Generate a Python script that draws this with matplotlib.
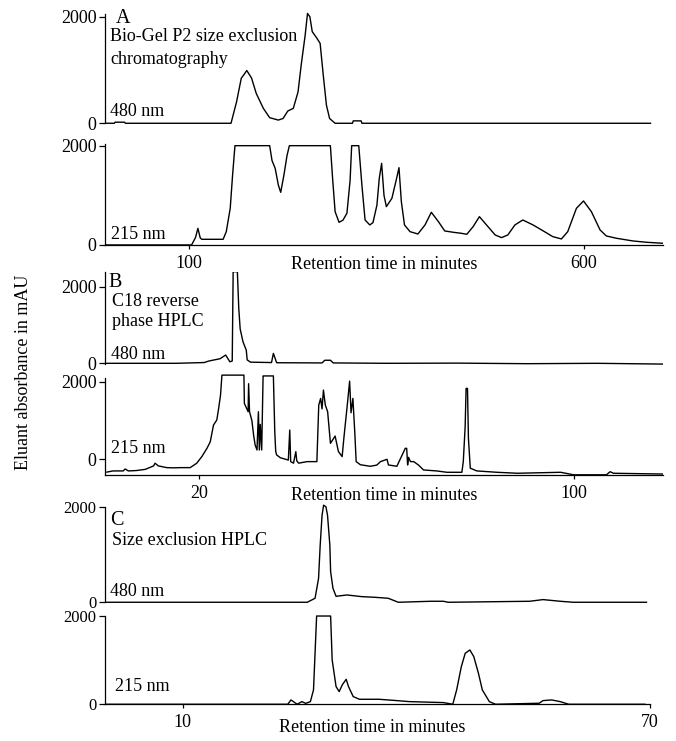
import numpy as np
import matplotlib.pyplot as plt

plt.rcParams['font.family'] = ['Liberation Serif', 'DejaVu Serif']

# ---- data (minutes, mAU) ----
# A: Bio-Gel P2
a480_t = [-5, 5, 6, 18, 19, 153, 160, 166, 169, 173, 179, 185, 194, 202, 213, 219, 225, 232,
          238, 242, 247, 250, 253, 256, 262, 266, 270, 274, 278, 285, 307, 308, 318, 319, 685]
a480_v = [0, 0, 20, 20, 0, 0, 400, 845, 905, 990, 850, 560, 280, 105, 60, 90, 230, 280,
          590, 1094, 1650, 2062, 2000, 1720, 1594, 1500, 900, 340, 90, 0, 0, 45, 45, 0, 0]

a215_t = [-5, 103, 108, 111, 114, 116, 143, 147, 152, 155, 158, 202, 205, 209, 213, 216, 220,
          224, 227, 279, 282, 285, 290, 295, 300, 304, 306, 315, 319, 323, 329, 333, 338, 341,
          344, 347, 350, 357, 363, 366, 369, 373, 380, 390, 399, 407, 416, 424, 435, 445,
          452, 460, 468, 477, 488, 496, 504, 513, 523, 536, 549, 561, 572, 580, 591, 600,
          610, 621, 629, 642, 663, 680, 701]
a215_v = [0, 0, 150, 335, 140, 114, 114, 268, 738, 1409, 2000, 2000, 1700, 1543, 1208, 1060,
          1400, 1800, 2000, 2000, 1300, 671, 456, 500, 640, 1300, 2000, 2000, 1200, 503, 403,
          450, 800, 1342, 1644, 1000, 772, 939, 1342, 1557, 872, 403, 268, 221, 403, 658,
          470, 282, 255, 235, 215, 369, 570, 403, 201, 148, 201, 403, 503, 403, 282, 168,
          121, 268, 738, 886, 671, 302, 181, 134, 80, 54, 34]

# B: C18 reverse phase HPLC
b480_t = [0, 15, 21, 22, 24.4, 25.6, 26.5, 27.0, 27.2, 28.1, 28.4, 28.7, 29.3, 30.0, 30.2,
          30.9, 35.4, 35.8, 36.5, 46.2, 46.8, 48.0, 48.6, 60, 75, 90, 105, 119]
b480_v = [0, 0, 20, 60, 120, 217, 40, 60, 2400, 2400, 1435, 900, 565, 345, 90, 30, 20, 260,
          15, 10, 80, 80, 10, 0, 5, -10, 0, -20]

b215_t = [0.2, 1.5, 3.7, 4.1, 4.8, 6.5, 8.4, 10.2, 10.5, 11.2, 13.0, 14.4, 15.9, 18.0, 19.4,
          20.5, 21.6, 22.3, 23.0, 23.7, 24.1, 24.5, 24.8, 29.5, 29.6, 30.4, 30.5, 30.7, 31.2,
          31.6, 31.9, 32.3, 32.6, 32.8, 33.0, 33.3, 33.6, 33.7, 35.8, 36.1, 36.3, 36.5, 37.3,
          39.0, 39.3, 39.5, 40.1, 40.6, 40.8, 41.2, 43.0, 45.1, 45.5, 45.9, 46.2, 46.5, 46.9,
          47.4, 48.0, 49.0, 49.7, 50.5, 50.9, 51.6, 52.1, 52.4, 52.8, 53.2, 53.5, 54.4, 56.5,
          57.9, 58.7, 60.1, 60.4, 62.2, 64.0, 64.3, 64.5, 64.7, 65.1, 65.8, 66.8, 67.9, 70.7,
          72.9, 76.1, 76.4, 76.8, 77.0, 77.3, 77.5, 77.9, 79.3, 83.6, 88.0, 97.2, 100.0,
          107.0, 107.8, 108.5, 119.1]
b215_v = [-330, -300, -300, -250, -300, -290, -260, -170, -100, -170, -215, -220, -215, -215,
          -103, 69, 283, 450, 884, 1012, 1313, 1656, 2171, 2171, 1441, 1227, 1950, 1227, 1000,
          600, 369, 240, 1227, 240, 900, 240, 2150, 2150, 2150, 700, 200, 112, 40, -20, 755,
          -60, -100, 197, -40, -100, -60, -60, 1398, 1570, 1300, 1785, 1400, 1227, 412, 600,
          200, 69, 582, 1400, 2016, 1200, 1570, 700, -60, -140, -180, -150, -60, 0, -146,
          -180, 283, 283, -146, 50, -60, -60, -146, -275, -300, -335, -335, -60, 841, 1828,
          1828, 540, -230, -300, -335, -360, -335, -400, -400, -320, -360, -380]

# C: size exclusion HPLC
c480_t = [0, 26.0, 27.0, 27.45, 27.66, 27.9, 28.1, 28.4, 28.6, 28.9, 29.0, 29.3, 29.7, 31.1,
          33.0, 34.7, 36.4, 37.7, 41.9, 43.5, 44.1, 54.6, 56.3, 58.5, 60.2, 69.6]
c480_v = [0, 0, 84, 502, 1199, 1826, 2035, 2000, 1826, 1199, 641, 293, 125, 153, 118, 104,
          84, 0, 21, 21, 0, 21, 56, 21, 0, 0]

c215_t = [0, 23.5, 23.9, 24.7, 25.3, 25.8, 26.4, 26.8, 27.2, 29.0, 29.2, 29.7, 30.1, 30.5,
          31.0, 31.3, 31.9, 32.7, 35.2, 37.5, 39.1, 43.5, 44.7, 45.2, 45.8, 46.3, 46.9, 47.4,
          48.0, 48.5, 49.4, 50.2, 55.8, 56.3, 57.4, 58.5, 59.6, 69.4]
c215_v = [0, 0, 98, 0, 60, 20, 60, 325, 2000, 2000, 1004, 400, 287, 440, 566, 400, 174, 113,
          113, 83, 60, 38, 0, 325, 853, 1155, 1231, 1080, 702, 325, 60, 0, 23, 83, 98, 60, 0, 0]

W, H = 676, 741
FS = 13


def px_axes(left, right, top, bottom):
    return fig.add_axes([left / W, 1 - bottom / H, (right - left) / W, (bottom - top) / H])


def style(ax, bottom_axis, ysize=13):
    ax.spines['top'].set_visible(False)
    ax.spines['right'].set_visible(False)
    ax.spines['left'].set_linewidth(0.9)
    ax.set_yticks([0, 2000])
    ax.set_yticklabels(['0', '2000'])
    ax.tick_params(axis='y', length=4, width=0.9, pad=2, labelsize=ysize)
    if bottom_axis:
        ax.spines['bottom'].set_linewidth(0.9)
        ax.tick_params(axis='x', length=3, width=0.9, pad=4, labelsize=13, direction='out')
    else:
        ax.spines['bottom'].set_visible(False)
        ax.set_xticks([])


fig = plt.figure(figsize=(W / 100, H / 100), dpi=100)

# panel A
ax = px_axes(105, 663, 11.4, 125.4)
ax.plot(a480_t, a480_v, color='black', lw=1.0)
ax.set_xlim(-6.8, 700.8)
ax.set_ylim(-40, 2100)
style(ax, False)
ax.spines['left'].set_bounds(0, 2060)
ax.text(0.02, 0.94, 'A', transform=ax.transAxes, fontsize=14.5, va='center')
ax.text(0.009, 0.78, 'Bio-Gel P2 size exclusion', transform=ax.transAxes, fontsize=FS, va='center')
ax.text(0.009, 0.575, 'chromatography', transform=ax.transAxes, fontsize=FS, va='center')
ax.text(0.009, 0.12, '480 nm', transform=ax.transAxes, fontsize=FS, va='center')

ax = px_axes(105, 663, 142.7, 245.7)
ax.plot(a215_t, a215_v, color='black', lw=1.0)
ax.set_xlim(-6.8, 700.8)
ax.set_ylim(-15, 2060)
style(ax, True)
ax.spines['bottom'].set_position(('data', 0))
ax.spines['left'].set_bounds(0, 2030)
ax.set_xticks([100, 600])
ax.text(0.01, 0.11, '215 nm', transform=ax.transAxes, fontsize=FS, va='center')
ax.text(0.5, -0.18, 'Retention time in minutes', transform=ax.transAxes, fontsize=FS,
        ha='center', va='center')

# panel B
ax = px_axes(105, 663, 271.7, 365.6)
ax.plot(b480_t, b480_v, color='black', lw=1.0)
ax.set_xlim(-0.2, 119.1)
ax.set_ylim(-60, 2400)
style(ax, False)
ax.spines['left'].set_bounds(-20, 2400)
ax.text(0.007, 0.89, 'B', transform=ax.transAxes, fontsize=14.5, va='center')
ax.text(0.012, 0.68, 'C18 reverse', transform=ax.transAxes, fontsize=FS, va='center')
ax.text(0.012, 0.47, 'phase HPLC', transform=ax.transAxes, fontsize=FS, va='center')
ax.text(0.01, 0.12, '480 nm', transform=ax.transAxes, fontsize=FS, va='center')

ax = px_axes(105, 663, 374.0, 475.0)
ax.plot(b215_t, b215_v, color='black', lw=1.0)
ax.set_xlim(-0.2, 119.1)
ax.set_ylim(-405, 2200)
style(ax, True)
ax.spines['left'].set_bounds(-405, 2090)
ax.set_xticks([20, 100])
ax.text(0.01, 0.26, '215 nm', transform=ax.transAxes, fontsize=FS, va='center')
ax.text(0.5, -0.2, 'Retention time in minutes', transform=ax.transAxes, fontsize=FS,
        ha='center', va='center')

# panel C
ax = px_axes(105, 649.6, 503.5, 603.7)
ax.plot(c480_t, c480_v, color='black', lw=1.0)
ax.set_xlim(0, 70)
ax.set_ylim(-30, 2070)
style(ax, False, ysize=12)
ax.spines['left'].set_bounds(0, 2000)
ax.text(0.01, 0.83, 'C', transform=ax.transAxes, fontsize=14.5, va='center')
ax.text(0.012, 0.63, 'Size exclusion HPLC', transform=ax.transAxes, fontsize=FS, va='center')
ax.text(0.01, 0.12, '480 nm', transform=ax.transAxes, fontsize=FS, va='center')

ax = px_axes(105, 649.6, 614.7, 704.7)
ax.plot(c215_t, c215_v, color='black', lw=1.0)
ax.set_xlim(0, 70)
ax.set_ylim(-10, 2030)
style(ax, True, ysize=12)
ax.spines['bottom'].set_position(('data', 0))
ax.spines['left'].set_bounds(0, 2000)
ax.set_xticks([10, 70])
ax.text(0.018, 0.2, '215 nm', transform=ax.transAxes, fontsize=FS, va='center')
ax.text(0.49, -0.25, 'Retention time in minutes', transform=ax.transAxes, fontsize=FS,
        ha='center', va='center')

fig.text(0.035, 0.498, 'Eluant absorbance in mAU', rotation=90, fontsize=FS,
         ha='center', va='center')

plt.savefig('out.png', dpi=100)
